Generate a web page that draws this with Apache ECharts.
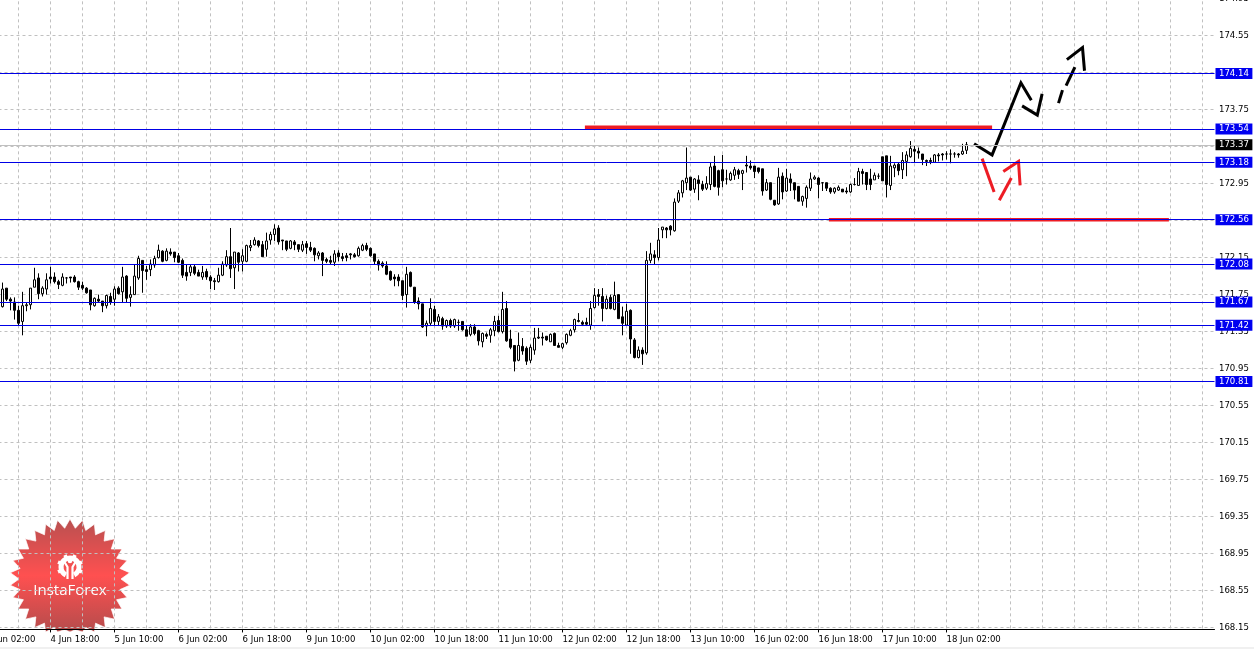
<!DOCTYPE html>
<html><head><meta charset="utf-8">
<style>html,body{margin:0;padding:0;background:#fff}#c{width:1254px;height:649px}</style>
<script src="https://cdn.jsdelivr.net/npm/echarts@6/dist/echarts.min.js"></script>
</head><body><div id="c"></div>
<script>
const tickLabels = ['4 Jun 02:00','4 Jun 18:00','5 Jun 10:00','6 Jun 02:00','6 Jun 18:00','9 Jun 10:00','10 Jun 02:00','10 Jun 18:00','11 Jun 10:00','12 Jun 02:00','12 Jun 18:00','13 Jun 10:00','16 Jun 02:00','16 Jun 18:00','17 Jun 10:00','18 Jun 02:00'];
const priceTicks = [168.15,168.55,168.95,169.35,169.75,170.15,170.55,170.95,171.35,171.75,172.15,172.55,172.95,173.35,173.75,174.15,174.55,174.95];
const opens = [
171.62,171.82,171.70,171.67,171.58,171.46,171.63,171.64,171.83,171.93,
171.76,171.81,171.94,171.94,171.89,171.85,171.93,171.94,171.94,171.89,
171.85,171.82,171.80,171.63,171.70,171.68,171.63,171.73,171.70,171.82,
171.78,171.95,171.72,171.75,171.93,172.12,172.02,172.02,172.07,172.15,
172.22,172.12,172.21,172.21,172.17,172.12,171.99,171.99,172.05,171.99,
171.94,172.00,171.94,171.90,171.89,171.96,172.07,172.16,172.04,172.20,
172.11,172.11,172.26,172.29,172.33,172.29,172.24,172.34,172.40,172.47,
172.34,172.33,172.25,172.32,172.29,172.23,172.30,172.26,172.25,172.17,
172.20,172.13,172.12,172.10,172.20,172.16,172.17,172.19,172.18,172.17,
172.23,172.28,172.25,172.19,172.11,172.09,172.06,172.00,171.94,171.94,
171.90,171.75,171.99,171.83,171.68,171.65,171.41,171.44,171.59,171.46,
171.49,171.41,171.47,171.41,171.45,171.46,171.37,171.32,171.40,171.36,
171.24,171.32,171.31,171.36,171.47,171.35,171.60,171.27,171.20,171.04,
171.19,171.17,171.04,171.15,171.29,171.29,171.30,171.24,171.33,171.20,
171.18,171.23,171.31,171.37,171.47,171.45,171.45,171.42,171.61,171.75,
171.73,171.60,171.72,171.59,171.75,171.51,171.42,171.58,171.26,171.07,
171.15,171.12,172.12,172.18,172.15,172.45,172.47,172.49,172.44,172.76,
172.85,172.96,173.02,172.89,172.99,172.94,172.90,172.94,173.14,173.09,
173.10,173.00,172.99,173.04,173.09,173.06,173.15,173.14,173.14,173.12,
173.11,172.88,172.96,172.77,172.73,173.03,172.87,173.00,172.96,172.92,
172.76,172.79,172.90,173.00,173.01,172.96,172.96,172.90,172.86,172.88,
172.89,172.87,172.86,172.94,172.93,173.08,173.07,173.00,172.99,173.03,
173.24,173.25,172.93,173.12,173.16,173.10,173.19,173.24,173.32,173.30,
173.27,173.20,173.20,173.18,173.26,173.27,173.27,173.27,173.27,173.27,173.27,173.31];
const closes = [
171.81,171.70,171.68,171.58,171.44,171.63,171.64,171.82,171.91,171.76,
171.82,171.91,171.92,171.89,171.86,171.94,171.93,171.93,171.89,171.83,
171.82,171.77,171.64,171.71,171.68,171.63,171.74,171.67,171.81,171.76,
171.94,171.71,171.75,171.95,172.14,172.01,172.00,172.08,172.14,172.23,
172.11,172.22,172.19,172.15,172.10,171.96,171.95,172.05,171.98,171.95,
171.99,171.94,171.90,171.89,171.96,172.08,172.16,172.03,172.21,172.10,
172.17,172.28,172.28,172.34,172.28,172.16,172.33,172.40,172.46,172.32,
172.33,172.24,172.33,172.29,172.24,172.29,172.26,172.23,172.18,172.20,
172.12,172.11,172.10,172.19,172.16,172.14,172.15,172.18,172.16,172.25,
172.28,172.24,172.17,172.11,172.07,172.06,171.97,171.91,171.92,171.90,
171.74,171.97,171.84,171.67,171.65,171.40,171.44,171.60,171.46,171.51,
171.41,171.47,171.41,171.48,171.45,171.37,171.30,171.40,171.33,171.25,
171.33,171.30,171.37,171.46,171.35,171.59,171.25,171.18,171.03,171.20,
171.14,171.03,171.18,171.28,171.28,171.28,171.26,171.32,171.20,171.18,
171.22,171.32,171.36,171.48,171.46,171.43,171.43,171.60,171.74,171.73,
171.60,171.70,171.60,171.74,171.49,171.44,171.57,171.27,171.07,171.15,
171.11,172.12,172.19,172.15,172.34,172.48,172.45,172.45,172.75,172.85,
172.98,173.01,172.88,173.00,172.95,172.89,172.95,173.13,172.92,172.91,
172.98,173.00,173.06,173.10,173.05,173.09,173.14,173.12,173.08,173.08,
172.87,172.96,172.78,172.72,173.02,172.86,173.01,172.96,172.88,172.76,
172.81,172.91,173.00,173.02,172.94,172.96,172.90,172.86,172.90,172.91,
172.86,172.86,172.94,172.94,173.08,173.06,172.94,172.94,173.04,173.03,
172.98,172.94,173.14,173.15,173.09,173.20,173.26,173.33,173.30,173.28,
173.21,173.19,173.19,173.26,173.25,173.26,173.27,173.27,173.27,173.26,173.30,173.37];
const lows = [
171.61,171.68,171.58,171.48,171.42,171.31,171.57,171.59,171.83,171.70,
171.73,171.75,171.87,171.87,171.81,171.84,171.87,171.88,171.88,171.80,
171.80,171.76,171.58,171.62,171.66,171.56,171.60,171.64,171.63,171.75,
171.66,171.66,171.62,171.75,171.91,171.77,171.91,171.95,172.04,172.14,
172.10,172.11,172.17,172.10,172.09,171.93,171.90,171.95,171.96,171.95,
171.91,171.91,171.81,171.80,171.88,171.95,172.05,171.93,171.81,172.00,
172.00,172.10,172.22,172.28,172.26,172.16,172.16,172.29,172.33,172.29,
172.23,172.22,172.24,172.23,172.21,172.21,172.19,172.21,172.11,172.13,
171.95,172.09,172.08,172.06,172.11,172.11,172.11,172.13,172.15,172.16,
172.22,172.22,172.16,172.08,172.01,172.04,171.96,171.90,171.84,171.84,
171.69,171.61,171.83,171.65,171.59,171.39,171.30,171.41,171.41,171.41,
171.37,171.39,171.39,171.39,171.36,171.36,171.30,171.30,171.31,171.20,
171.18,171.27,171.23,171.30,171.34,171.33,171.24,171.16,170.92,171.03,
171.10,170.99,171.01,171.10,171.27,171.20,171.25,171.24,171.20,171.18,
171.16,171.21,171.30,171.34,171.45,171.41,171.41,171.37,171.60,171.63,
171.46,171.59,171.59,171.58,171.49,171.31,171.41,171.11,171.06,171.06,
170.99,171.10,172.09,172.08,172.12,172.36,172.36,172.39,172.43,172.74,
172.80,172.88,172.87,172.85,172.77,172.87,172.88,172.88,172.91,172.82,
172.91,172.94,172.98,172.99,173.00,172.88,173.07,173.10,173.01,173.06,
172.82,172.87,172.77,172.71,172.72,172.78,172.86,172.87,172.78,172.76,
172.71,172.69,172.87,172.99,172.79,172.87,172.87,172.84,172.84,172.87,
172.86,172.84,172.85,172.93,172.93,172.94,172.88,172.88,172.99,173.00,
172.98,172.80,172.88,173.02,173.04,173.00,173.03,173.23,173.18,173.22,
173.15,173.14,173.16,173.18,173.19,173.20,173.21,173.17,173.23,173.23,173.26,173.27];
const highs = [
171.88,171.82,171.72,171.72,171.63,171.78,171.66,171.82,172.04,171.98,
171.84,171.98,172.05,171.99,171.91,171.98,171.94,171.94,171.96,171.90,
171.89,171.83,171.80,171.72,171.75,171.68,171.75,171.77,171.84,171.84,
172.05,171.96,171.84,172.07,172.17,172.12,172.06,172.13,172.17,172.29,
172.23,172.25,172.25,172.21,172.20,172.14,172.08,172.08,172.07,172.02,
172.06,172.03,171.96,171.93,172.04,172.11,172.23,172.47,172.21,172.21,
172.24,172.29,172.34,172.37,172.34,172.33,172.42,172.43,172.51,172.50,
172.34,172.33,172.34,172.34,172.29,172.33,172.33,172.32,172.26,172.22,
172.21,172.15,172.17,172.23,172.23,172.20,172.20,172.20,172.20,172.27,
172.30,172.31,172.26,172.19,172.13,172.11,172.11,172.01,171.97,171.97,
171.90,172.05,172.00,171.83,171.72,171.65,171.47,171.71,171.63,171.54,
171.51,171.48,171.49,171.49,171.48,171.46,171.42,171.43,171.43,171.37,
171.34,171.34,171.39,171.52,171.52,171.78,171.68,171.37,171.20,171.34,
171.28,171.19,171.21,171.39,171.39,171.34,171.30,171.33,171.34,171.23,
171.23,171.33,171.38,171.49,171.55,171.47,171.50,171.68,171.82,171.81,
171.82,171.74,171.75,171.89,171.75,171.62,171.65,171.59,171.28,171.19,
171.18,172.22,172.31,172.23,172.47,172.48,172.48,172.50,172.79,172.88,
172.99,173.34,173.02,173.01,173.04,172.98,173.03,173.18,173.25,173.10,
173.26,173.10,173.08,173.13,173.11,173.10,173.25,173.20,173.14,173.12,
173.11,173.00,172.96,172.77,173.12,173.07,173.11,173.06,172.96,172.92,
172.82,172.93,173.07,173.04,173.02,172.96,172.96,172.91,172.91,172.93,
172.89,172.91,172.95,173.01,173.12,173.11,173.07,173.11,173.07,173.06,
173.24,173.25,173.25,173.17,173.18,173.29,173.30,173.41,173.36,173.34,
173.27,173.21,173.23,173.27,173.28,173.28,173.30,173.32,173.29,173.28,173.38,173.40];

const levels = [174.14,173.54,173.18,172.56,172.08,171.67,171.42,170.81];
const bidPrice = 173.37;

// hand-drawn annotations, as [bar slot, price]
const redLevelUpper = [[149.6,173.56],[251.4,173.56]];
const redLevelLower = [[210.6,172.56],[295.6,172.56]];
const blackStrokeA = [[246.9,173.38],[251.4,173.26],[258.6,174.04],[261.2,173.85]];
const blackStrokeB = [[258.9,173.79],[262.7,173.69],[263.9,173.92]];
const blackDashA = [[268.0,173.82],[269.0,173.96]];
const blackDashB = [[269.9,174.01],[272.1,174.21]];
const blackHead = [[270.1,174.29],[274.0,174.42],[274.5,174.17]];
const redStrokeA = [[248.9,173.22],[251.9,172.86]];
const redStrokeB = [[253.2,172.77],[256.2,173.01]];
const redHead = [[254.2,173.08],[258.0,173.19],[258.4,172.93]];

const SLOTS = 307, LEAD = 4;
const categories = Array.from({length: SLOTS + 1}, (_, j) => (j % 16 === 0 && tickLabels[j / 16]) || '');
const candles = [];
for (let j = 0; j < LEAD; j++) candles.push(['-','-','-','-']);
opens.forEach((o, i) => candles.push([o, closes[i], lows[i], highs[i]]));

const FONT = '"DejaVu Sans Condensed", "Open Sans"';
const AXIS_FONT = {fontFamily: FONT, fontSize: 9.5, color: '#000'};
const labelled = (i, v) => v !== '';
const stroke = (data, color, width) => ({type: 'line', xAxisIndex: 1, data, symbol: 'none', silent: true, z: 4, zlevel: 0,
  lineStyle: {color, width, cap: 'butt', join: 'miter'}, animation: false});
const level = (value, line, tag) => ({yAxis: value, lineStyle: {color: line, width: 1, type: 'solid'},
  label: {show: true, position: 'end', distance: 1, formatter: () => value.toFixed(2),
    backgroundColor: tag, color: '#fff', fontFamily: FONT, fontSize: 9.5, padding: [1, 3.5, 0, 3.5], lineHeight: 10}});

// badge
const cx = 70, cy = 579, teeth = 30, badgePts = [];
for (let i = 0; i < teeth * 2; i++) {
  const a = Math.PI * i / teeth - Math.PI / 2, r = i % 2 ? 51 : 60;
  badgePts.push([cx + r * Math.cos(a), Math.min(cy + r * Math.sin(a), 632)]);
}
const gearTeeth = [];
for (let i = 0; i < 8; i++) {
  const a = Math.PI * (i + 0.5) / 4 ;
  if (Math.abs(a - Math.PI / 2) < 0.5) continue;
  gearTeeth.push({type: 'line', z: -1, shape: {x1: cx + 8 * Math.cos(a), y1: 567 + 8 * Math.sin(a), x2: cx + 13 * Math.cos(a), y2: 567 + 13 * Math.sin(a)},
    style: {stroke: '#fff', lineWidth: 3.5}});
}

const chart = echarts.init(document.getElementById('c'), null, {renderer: 'canvas', width: 1254, height: 649});
chart.setOption({
  animation: false,
  backgroundColor: '#fff',
  grid: {left: -13.5, top: -10.65, width: 4 * SLOTS, height: 640.1, containLabel: false, outerBoundsMode: 'none'},
  xAxis: [{
    type: 'category', data: categories, boundaryGap: false, position: 'bottom',
    axisLine: {lineStyle: {color: '#000', width: 1}},
    axisTick: {show: true, length: 3, interval: labelled, lineStyle: {color: '#000'}},
    axisLabel: Object.assign({show: true, interval: labelled, align: 'left', margin: 5, hideOverlap: false}, AXIS_FONT),
    splitLine: {show: true, interval: (i) => i % 8 === 0, lineStyle: {color: '#c0c0c0', width: 1, type: [3, 3]}}
  }, {
    type: 'value', min: 0, max: SLOTS, show: false, splitLine: {show: false}
  }],
  yAxis: {
    type: 'value', position: 'right', min: 168.13, max: 175.05, offset: -1.5, scale: true,
    axisLine: {show: true, lineStyle: {color: '#000', width: 1}},
    axisTick: {show: true, length: 3, inside: false, customValues: priceTicks, lineStyle: {color: '#000'}},
    axisLabel: Object.assign({show: true, margin: 6, customValues: priceTicks, formatter: (v) => v.toFixed(2), hideOverlap: false}, AXIS_FONT),
    splitLine: {show: true, lineStyle: {color: '#c0c0c0', width: 1, type: [3, 3]}}
  },
  graphic: [
    {type: 'polygon', z: -1, shape: {points: badgePts}, style: {
      stroke: 'rgba(255,255,255,0.7)', lineWidth: 1,
      fill: new echarts.graphic.LinearGradient(0, 0, 0, 1, [{offset: 0, color: '#b85050'}, {offset: 0.5, color: '#ff5050'}, {offset: 1, color: '#b44c4c'}])}},
    {type: 'arc', z: -1, shape: {cx: cx, cy: 567, r: 9, startAngle: 2.05, endAngle: 1.09, clockwise: true}, style: {stroke: '#fff', lineWidth: 5, fill: null}},
    ...gearTeeth,
    {type: 'circle', z: -1, shape: {cx: cx, cy: 561, r: 2.3}, style: {fill: '#fff'}},
    {type: 'polyline', z: -1, shape: {points: [[cx - 5.5, 562], [cx - 2.5, 567], [cx - 2.5, 579]]}, style: {stroke: '#fff', lineWidth: 2.2, fill: null}},
    {type: 'polyline', z: -1, shape: {points: [[cx + 5.5, 562], [cx + 2.5, 567], [cx + 2.5, 579]]}, style: {stroke: '#fff', lineWidth: 2.2, fill: null}},
    {type: 'text', z: -1, x: cx, y: 591, style: {text: 'InstaForex', fill: '#fff', font: '15px "Open Sans"', align: 'center', verticalAlign: 'middle'}},
    {type: 'rect', z: -1, shape: {x: 0, y: 647, width: 1254, height: 2}, style: {fill: '#f0f0f0'}}
  ],
  series: [
    {type: 'candlestick', data: candles, barWidth: 3, silent: true, z: 2,
      itemStyle: {color: '#fff', color0: '#000', borderColor: '#000', borderColor0: '#000', borderWidth: 1, borderColorDoji: '#000'}},
    {type: 'line', data: [], silent: true, z: 3, markLine: {
      silent: true, symbol: 'none', animation: false, precision: 2,
      data: [
        level(bidPrice, '#c0c0c0', '#000'),
        ...levels.map(v => level(v, '#0000e6', '#0000f0'))
      ]}},
    stroke(redLevelUpper, '#ed1c24', 3.5),
    stroke(redLevelLower, '#ed1c24', 3.5),
    stroke(blackStrokeA, '#000', 3),
    stroke(blackStrokeB, '#000', 3),
    stroke(blackDashA, '#000', 3),
    stroke(blackDashB, '#000', 3),
    stroke(blackHead, '#000', 3),
    stroke(redStrokeA, '#ed1c24', 3),
    stroke(redStrokeB, '#ed1c24', 3),
    stroke(redHead, '#ed1c24', 3)
  ]
});
</script></body></html>
